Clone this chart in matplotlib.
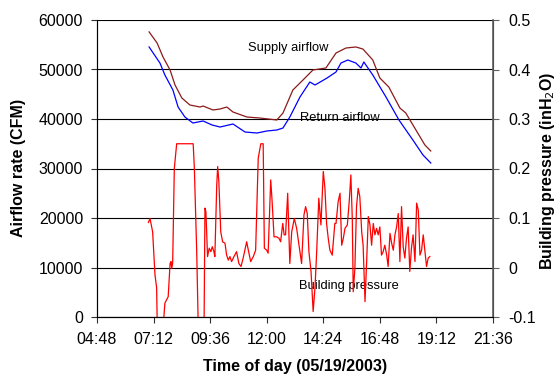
import matplotlib.pyplot as plt
from matplotlib.ticker import FuncFormatter
import numpy as np

plt.rcParams['font.family'] = ['Liberation Sans', 'DejaVu Sans']

# time of day in decimal hours, airflow in CFM
supply_t = [7.01, 7.35, 7.60, 7.90, 8.11, 8.40, 8.74, 9.17, 9.30, 9.72, 10.02, 10.31, 10.57,
            11.16, 11.71, 12.43, 12.69, 13.11, 13.54, 13.96, 14.51, 14.94, 15.36, 15.78,
            16.08, 16.50, 16.80, 17.18, 17.65, 17.90, 18.33, 18.71, 18.96]
supply = [57600, 55350, 52530, 49900, 46870, 44240, 42830, 42420, 42620, 41820, 42020, 42420, 41410,
          40400, 40200, 39800, 41210, 45860, 47880, 49900, 50300, 53330, 54340, 54550,
          54140, 51920, 48280, 46460, 42220, 41210, 37780, 34750, 33540]

return_t = [7.01, 7.47, 7.68, 8.02, 8.24, 8.53, 8.87, 9.30, 9.68, 10.02, 10.57, 11.08, 11.59,
            12.01, 12.43, 12.69, 12.98, 13.41, 13.83, 14.05, 14.56, 14.94, 15.15, 15.44,
            15.78, 16.00, 16.12, 16.50, 17.06, 17.61, 18.20, 18.63, 18.96]
return_air = [54550, 51310, 48890, 45860, 42420, 40400, 39190, 39600, 38790, 38380, 38990, 37370, 37170,
              37580, 37780, 38180, 40400, 44440, 47470, 46870, 48280, 49500, 51310, 51920,
              51310, 50300, 51520, 48890, 44440, 39800, 35760, 32730, 31110]

# building pressure in inH2O
press_t = [6.98, 7.05, 7.16, 7.26, 7.33, 7.36, 7.59, 7.68, 7.82, 7.90, 7.94, 7.97, 8.01, 8.08,
           8.18, 8.88, 8.93, 9.03, 9.10, 9.34, 9.38, 9.42, 9.49, 9.56, 9.63, 9.69, 9.76, 9.80,
           9.88, 9.92, 9.97, 10.05, 10.13, 10.23, 10.30, 10.37, 10.44, 10.51, 10.61, 10.72,
           10.82, 10.91, 11.00, 11.15, 11.22, 11.32, 11.43, 11.53, 11.64, 11.75, 11.85, 11.90,
           12.00, 12.06, 12.17, 12.23, 12.31, 12.42, 12.52, 12.59, 12.68, 12.74, 12.80, 12.89,
           12.98, 13.06, 13.17, 13.27, 13.48, 13.58, 13.65, 13.72, 13.79, 13.88, 13.97, 14.05,
           14.12, 14.21, 14.30, 14.40, 14.47, 14.54, 14.61, 14.68, 14.78, 14.89, 14.94, 15.03,
           15.11, 15.18, 15.25, 15.32, 15.42, 15.50, 15.57, 15.63, 15.67, 15.74, 15.81, 15.88,
           15.95, 16.03, 16.09, 16.17, 16.24, 16.31, 16.38, 16.45, 16.52, 16.59, 16.66, 16.73,
           16.80, 16.87, 16.94, 17.01, 17.09, 17.15, 17.23, 17.30, 17.37, 17.44, 17.51, 17.58,
           17.65, 17.72, 17.79, 17.86, 17.93, 18.00, 18.07, 18.14, 18.21, 18.29, 18.36, 18.43,
           18.50, 18.57, 18.64, 18.71, 18.78, 18.85, 18.92]
pressure = [0.091, 0.099, 0.072, -0.015, -0.041, -0.13, -0.13, -0.072, -0.059, 0.008, 0.012, -0.002, 0.009, 0.200,
            0.25, 0.25, 0.201, 0.032, -0.13, -0.13, 0.120, 0.113, 0.022, 0.039, 0.032, 0.042, 0.032, 0.022,
            0.167, 0.204, 0.173, 0.072, 0.052, 0.049, 0.025, 0.015, 0.022, 0.012, 0.022, 0.032,
            0.008, 0.002, 0.019, 0.052, 0.035, 0.012, 0.022, 0.035, 0.221, 0.25, 0.25, 0.039,
            0.035, 0.029, 0.177, 0.133, 0.062, 0.062, 0.059, 0.052, 0.089, 0.066, 0.066, 0.150,
            0.008, 0.072, 0.099, 0.079, 0.008, 0.106, 0.123, 0.109, 0.032, -0.008, -0.089, -0.039,
            0.032, 0.140, 0.086, 0.194, 0.160, 0.089, 0.059, 0.035, 0.025, 0.089, 0.089, 0.133,
            0.150, 0.045, 0.059, 0.079, 0.086, 0.133, 0.187, 0.099, -0.049, -0.002, 0.123, 0.160,
            0.143, 0.072, 0.045, -0.069, 0.012, 0.103, 0.086, 0.045, 0.089, 0.066, 0.079, 0.066,
            0.082, 0.025, 0.032, 0.045, 0.025, 0.002, 0.069, 0.049, 0.035, 0.066, 0.082, 0.109,
            0.012, 0.123, 0.042, 0.019, 0.059, 0.082, -0.008, 0.039, 0.066, 0.012, 0.130, 0.116,
            0.025, 0.035, 0.066, 0.035, 0.002, 0.019, 0.022]


def hhmm(v, pos=None):
    h = int(v + 1e-6)
    m = int(round((v - h) * 60))
    return "%02d:%02d" % (h, m)


fig = plt.figure(figsize=(5.56, 3.77), dpi=100)
ax = fig.add_axes([97/556, 60/377, 396/556, 297/377])
ax2 = ax.twinx()

ax.plot(supply_t, supply, color='#8B1A1A', lw=0.9)
ax.plot(return_t, return_air, color='#0000FF', lw=0.9)
ax2.plot(press_t, pressure, color='#FF0000', lw=0.9)

ax.set_xlim(4.8, 21.6)
ax.set_ylim(0, 60000)
ax2.set_ylim(-0.1, 0.5)
ax.set_xticks(np.arange(4.8, 21.7, 2.4))
ax.xaxis.set_major_formatter(FuncFormatter(hhmm))
ax.set_yticks(np.arange(0, 60001, 10000))
ax2.set_yticks(np.arange(-0.1, 0.51, 0.1))
ax2.yaxis.set_major_formatter(FuncFormatter(lambda v, p: "%g" % round(v, 1)))

ax.grid(axis='y', color='black', lw=0.8)
ax.set_axisbelow(True)

for a in (ax, ax2):
    a.spines['top'].set_visible(False)
ax.spines['left'].set_color('#303030')
ax.spines['bottom'].set_color('#000000')
ax2.spines['right'].set_color('#606060')
ax2.spines['right'].set_linewidth(1.2)
ax.tick_params(axis='both', labelsize=11.5, length=4, direction='out', color='#303030')
ax.tick_params(axis='y', pad=6)
ax.tick_params(axis='x', pad=7)
ax2.tick_params(axis='y', labelsize=11.5, length=4, direction='out', pad=7, color='#606060')

ax.text(12.9, 54400, "Supply airflow", fontsize=9.3, ha='center', va='center')
ax.text(15.1, 40200, "Return airflow", fontsize=9.3, ha='center', va='center')
ax.text(15.5, 6200, "Building pressure", fontsize=9.3, ha='center', va='center')

fig.text(0.034, 0.554, "Airflow rate (CFM)", rotation=90, fontsize=11.5,
         fontweight='bold', ha='center', va='center')
fig.text(0.984, 0.546, "Building pressure (inH$_2$O)", rotation=90, fontsize=11.5,
         fontweight='bold', ha='center', va='center')
fig.text(0.53, 0.027, "Time of day (05/19/2003)", fontsize=11.5,
         fontweight='bold', ha='center', va='center')

plt.savefig("out.png", dpi=100)
